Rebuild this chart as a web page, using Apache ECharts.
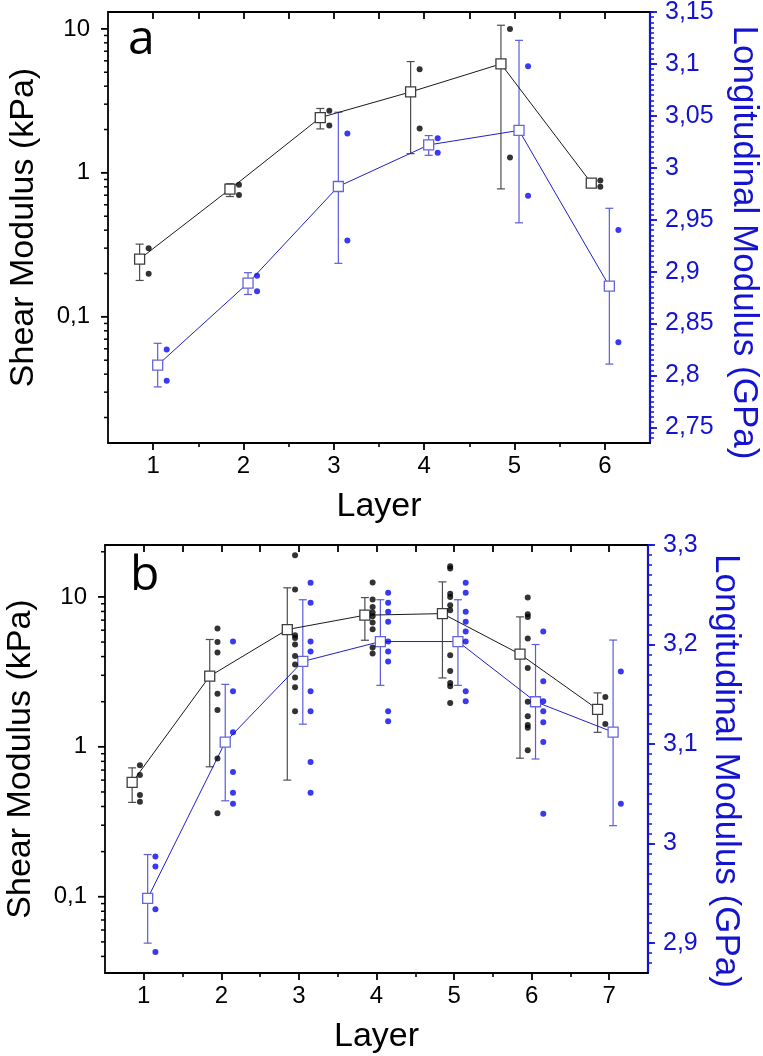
<!DOCTYPE html>
<html><head><meta charset="utf-8">
<script src="https://cdn.jsdelivr.net/npm/echarts@6/dist/echarts.min.js"></script>
<style>html,body{margin:0;padding:0;background:#fff}#c{width:763px;height:1056px}</style>
</head><body><div id="c"></div>
<script>
// ---------- Panel a data ----------
const layersA = [1, 2, 3, 4, 5, 6];
const shearMeanA = [0.252, 0.77, 2.42, 3.65, 5.71, 0.85];
const shearLowA  = [0.179, 0.685, 2.02, 1.36, 0.774, 0.80];
const shearHighA = [0.32, 0.84, 2.80, 5.93, 10.6, 0.90];
const shearPtsA  = [[0.30, 0.199], [0.826, 0.703], [2.70, 2.13], [5.25, 2.03], [10.0, 1.28], [0.884, 0.80]];
const longMeanA  = [2.810, 2.889, 2.982, 3.022, 3.036, 2.886];
const longLowA   = [2.789, 2.878, 2.908, 3.012, 2.947, 2.811];
const longHighA  = [2.831, 2.899, 3.0535, 3.031, 3.1227, 2.961];
const longPtsA   = [[2.825, 2.795], [2.896, 2.881], [3.033, 2.930], [3.0285, 3.0144], [3.0977, 2.973], [2.940, 2.832]];

// ---------- Panel b data ----------
const layersB = [1, 2, 3, 4, 5, 6, 7];
const shearMeanB = [0.579, 2.96, 6.06, 7.55, 7.74, 4.15, 1.78];
const shearLowB  = [0.426, 0.736, 0.60, 5.14, 2.88, 0.84, 1.25];
const shearHighB = [0.724, 5.2, 11.5, 9.9, 12.6, 7.36, 2.29];
const shearPtsB  = [
  [0.755, 0.648, 0.477, 0.43],
  [6.16, 5.01, 4.26, 2.26, 1.76, 0.837, 0.36],
  [19.0, 11.2, 5.56, 5.33, 4.82, 4.03, 3.54, 2.90, 2.50, 1.73],
  [12.5, 9.6, 8.58, 7.87, 7.43, 6.74, 6.09, 4.60, 4.20],
  [16.0, 15.5, 10.5, 10.0, 8.8, 8.15, 4.08, 3.21, 2.67, 2.54, 1.96],
  [9.9, 7.67, 7.36, 5.29, 3.36, 2.0, 1.60, 1.40, 1.34, 0.95],
  [2.15, 1.42]
];
const longMeanB = [2.945, 3.102, 3.183, 3.203, 3.203, 3.1425, 3.112];
const longLowB  = [2.900, 3.043, 3.120, 3.159, 3.159, 3.085, 3.018];
const longHighB = [2.989, 3.160, 3.245, 3.245, 3.245, 3.200, 3.2045];
const longPtsB  = [
  [2.987, 2.977, 2.934, 2.891],
  [3.203, 3.153, 3.112, 3.072, 3.051, 3.040],
  [3.262, 3.242, 3.203, 3.193, 3.153, 3.133, 3.082, 3.051],
  [3.252, 3.242, 3.233, 3.223, 3.203, 3.193, 3.183, 3.133, 3.123],
  [3.262, 3.252, 3.233, 3.223, 3.213, 3.203, 3.153, 3.143],
  [3.213, 3.163, 3.143, 3.133, 3.122, 3.102, 3.030],
  [3.173, 3.040]
];

// ---------- Tick labels ----------
const shearTicksA = [0.1, 1, 10];
const shearMinorA = [0.02,0.03,0.04,0.05,0.06,0.07,0.08,0.09,0.2,0.3,0.4,0.5,0.6,0.7,0.8,0.9,2,3,4,5,6,7,8,9];
const longTicksA  = [2.75, 2.8, 2.85, 2.9, 2.95, 3, 3.05, 3.1, 3.15];
const shearTicksB = [0.1, 1, 10];
const shearMinorB = [0.04,0.05,0.06,0.07,0.08,0.09,0.2,0.3,0.4,0.5,0.6,0.7,0.8,0.9,2,3,4,5,6,7,8,9,20];
const longTicksB  = [2.9, 3, 3.1, 3.2, 3.3];

function seq(a, b, step) { const out = []; const n = Math.round((b - a) / step); for (let i = 0; i <= n; i++) out.push(+(a + i * step).toFixed(4)); return out; }
const longMinorA = seq(2.74, 3.15, 0.005);
const longMinorB = seq(2.88, 3.3, 0.01);

const FONT = 'Liberation Sans, Arial, sans-serif';
const BLUE = '#1414d0';
const fmt = v => String(+(+v).toPrecision(6)).replace('.', ',');

function xAxes(grid, max, ticks) {
  const halves = ticks.slice(0, -1).map(t => t + 0.5);
  const all = ticks.concat(halves).sort((p, q) => p - q);
  const base = { gridIndex: grid, type: 'value', min: 0.5, max: max, splitLine: { show: false } };
  return [
    Object.assign({}, base, { position: 'bottom',
      axisLine: { show: true, onZero: false, lineStyle: { color: '#000', width: 1.8 } },
      axisTick: { show: true, interval: 0, customValues: ticks, length: 7, lineStyle: { color: '#000', width: 1.8 } },
      axisLabel: { show: true, customValues: ticks, margin: 11, fontSize: 24, color: '#000', fontFamily: FONT },
      name: 'Layer', nameLocation: 'middle', nameGap: 47,
      nameTextStyle: { fontSize: 34, color: '#000', fontFamily: FONT } }),
    Object.assign({}, base, { position: 'bottom',
      axisLine: { show: false, onZero: false },
      axisTick: { show: true, interval: 0, customValues: halves, length: 4, lineStyle: { color: '#000', width: 1.6 } },
      axisLabel: { show: false } }),
    Object.assign({}, base, { position: 'top',
      axisLine: { show: true, onZero: false, lineStyle: { color: '#000', width: 1.8 } },
      axisTick: { show: true, interval: 0, inside: true, customValues: all, length: 7, lineStyle: { color: '#000', width: 1.8 } },
      axisLabel: { show: false } })
  ];
}

function yAxes(grid, lmin, lmax, lTicks, rmin, rmax, rTicks, rMinor, rGap, rPad) {
  return [
    { gridIndex: grid, type: 'log', logBase: 10, min: lmin, max: lmax, position: 'left', offset: 0,
      splitLine: { show: false },
      axisLine: { show: true, onZero: false, lineStyle: { color: '#000', width: 1.8 } },
      axisTick: { show: false },
      axisLabel: { show: true, customValues: lTicks, formatter: fmt, margin: 18, fontSize: 24, color: '#000', fontFamily: FONT },
      name: 'Shear Modulus (kPa)', nameLocation: 'middle', nameRotate: 90, nameGap: 67,
      nameTextStyle: { fontSize: 34, color: '#000', fontFamily: FONT } },
    { gridIndex: grid, type: 'value', min: rmin, max: rmax, position: 'right', offset: 0,
      splitLine: { show: false },
      axisLine: { show: true, onZero: false, lineStyle: { color: BLUE, width: 2.2 } },
      axisTick: { show: true, interval: 0, customValues: rTicks, length: 7, lineStyle: { color: BLUE, width: 1.8 } },
      axisLabel: { show: true, customValues: rTicks, formatter: fmt, margin: 15, fontSize: 25, color: BLUE, fontFamily: FONT },
      name: 'Longitudinal Modulus (GPa)', nameLocation: 'middle', nameRotate: -90, nameGap: rGap,
      nameTextStyle: { fontSize: 35, color: BLUE, fontFamily: FONT, padding: [0, 0, 0, rPad] } },
    { gridIndex: grid, type: 'value', min: rmin, max: rmax, position: 'right', offset: 0,
      splitLine: { show: false }, axisLine: { show: false, onZero: false },
      axisTick: { show: true, interval: 0, customValues: rMinor, length: 4, lineStyle: { color: BLUE, width: 1.5 } },
      axisLabel: { show: false } }
  ];
}

// tick marks of the log axes, placed through the log scale
function logTickSeries(xi, yi, xAt, values, len, width) {
  return { type: 'custom', xAxisIndex: xi, yAxisIndex: yi, silent: true, z: 5, clip: false,
    encode: { x: 0, y: 1 },
    data: values.map(v => [xAt, v]),
    renderItem: function (params, api) {
      const p = api.coord([api.value(0), api.value(1)]);
      return { type: 'line', shape: { x1: p[0] - len, y1: p[1], x2: p[0], y2: p[1] },
        style: { stroke: '#000', lineWidth: width } };
    } };
}

function errSeries(xi, yi, layers, off, low, high, color) {
  return { type: 'custom', xAxisIndex: xi, yAxisIndex: yi, silent: true, z: 2, clip: false,
    encode: { x: 0, y: [1, 2] },
    data: layers.map((l, i) => [l + off, low[i], high[i]]),
    renderItem: function (params, api) {
      const x = api.value(0);
      const lo = api.coord([x, api.value(1)]);
      const hi = api.coord([x, api.value(2)]);
      const w = 4;
      const st = { stroke: color, lineWidth: 1.2 };
      return { type: 'group', children: [
        { type: 'line', shape: { x1: lo[0], y1: lo[1], x2: hi[0], y2: hi[1] }, style: st },
        { type: 'line', shape: { x1: lo[0] - w, y1: lo[1], x2: lo[0] + w, y2: lo[1] }, style: st },
        { type: 'line', shape: { x1: hi[0] - w, y1: hi[1], x2: hi[0] + w, y2: hi[1] }, style: st }
      ] };
    } };
}
function lineSeries(xi, yi, layers, off, mean, lineColor, markColor) {
  return { type: 'line', xAxisIndex: xi, yAxisIndex: yi, z: 3, silent: true,
    data: layers.map((l, i) => [l + off, mean[i]]),
    symbol: 'rect', symbolSize: 10, showSymbol: true,
    lineStyle: { color: lineColor, width: 1 },
    itemStyle: { color: '#fff', borderColor: markColor, borderWidth: 1.3 } };
}
function dotSeries(xi, yi, layers, off, pts, color) {
  const d = [];
  layers.forEach((l, i) => pts[i].forEach(v => d.push([l + off, v])));
  return { type: 'scatter', xAxisIndex: xi, yAxisIndex: yi, z: 4, silent: true, data: d,
    symbol: 'circle', symbolSize: 6, itemStyle: { color: color } };
}

const OFF_BS = -0.15, OFF_BD = -0.05, OFF_LS = 0.05, OFF_LD = 0.15;
const BLK_LINE = '#1a1a1a', BLK_MARK = '#3c3c3c', BLK_ERR = '#4d4d4d', BLK_DOT = '#000';
const BLU_LINE = '#2020c8', BLU_MARK = '#6464e0', BLU_ERR = '#5c5cdc', BLU_DOT = '#0707ee';

const option = {
  animation: false,
  backgroundColor: '#fff',
  grid: [
    { left: 108, top: 12, width: 542, height: 431, containLabel: false, outerBoundsMode: 'none' },
    { left: 105, top: 545, width: 543, height: 428, containLabel: false, outerBoundsMode: 'none' }
  ],
  xAxis: [].concat(xAxes(0, 6.5, layersA), xAxes(1, 7.5, layersB)),
  yAxis: [].concat(
    yAxes(0, 0.0133, 13.1, shearTicksA, 2.735, 3.15, longTicksA, longMinorA, 76, 30),
    yAxes(1, 0.031, 22.2, shearTicksB, 2.87, 3.3, longTicksB, longMinorB, 57, 24)
  ),
  graphic: [
    { type: 'text', left: 128, top: 16, style: { text: 'a', font: '48px "Open Sans", sans-serif', fill: '#000' } },
    { type: 'text', left: 130, top: 552, style: { text: 'b', font: '48px "Open Sans", sans-serif', fill: '#000' } }
  ],
  series: [
    logTickSeries(0, 0, 0.5, shearTicksA, 7, 1.8),
    logTickSeries(0, 0, 0.5, shearMinorA, 4, 1.5),
    errSeries(0, 0, layersA, OFF_BS, shearLowA, shearHighA, BLK_ERR),
    errSeries(0, 1, layersA, OFF_LS, longLowA, longHighA, BLU_ERR),
    lineSeries(0, 0, layersA, OFF_BS, shearMeanA, BLK_LINE, BLK_MARK),
    lineSeries(0, 1, layersA, OFF_LS, longMeanA, BLU_LINE, BLU_MARK),
    dotSeries(0, 0, layersA, OFF_BD, shearPtsA, BLK_DOT),
    dotSeries(0, 1, layersA, OFF_LD, longPtsA, BLU_DOT),

    logTickSeries(3, 3, 0.5, shearTicksB, 7, 1.8),
    logTickSeries(3, 3, 0.5, shearMinorB, 4, 1.5),
    errSeries(3, 3, layersB, OFF_BS, shearLowB, shearHighB, BLK_ERR),
    errSeries(3, 4, layersB, OFF_LS, longLowB, longHighB, BLU_ERR),
    lineSeries(3, 3, layersB, OFF_BS, shearMeanB, BLK_LINE, BLK_MARK),
    lineSeries(3, 4, layersB, OFF_LS, longMeanB, BLU_LINE, BLU_MARK),
    dotSeries(3, 3, layersB, OFF_BD, shearPtsB, BLK_DOT),
    dotSeries(3, 4, layersB, OFF_LD, longPtsB, BLU_DOT)
  ]
};
const chart = echarts.init(document.getElementById('c'), null, { renderer: 'canvas' });
chart.setOption(option);
</script>
</body></html>
